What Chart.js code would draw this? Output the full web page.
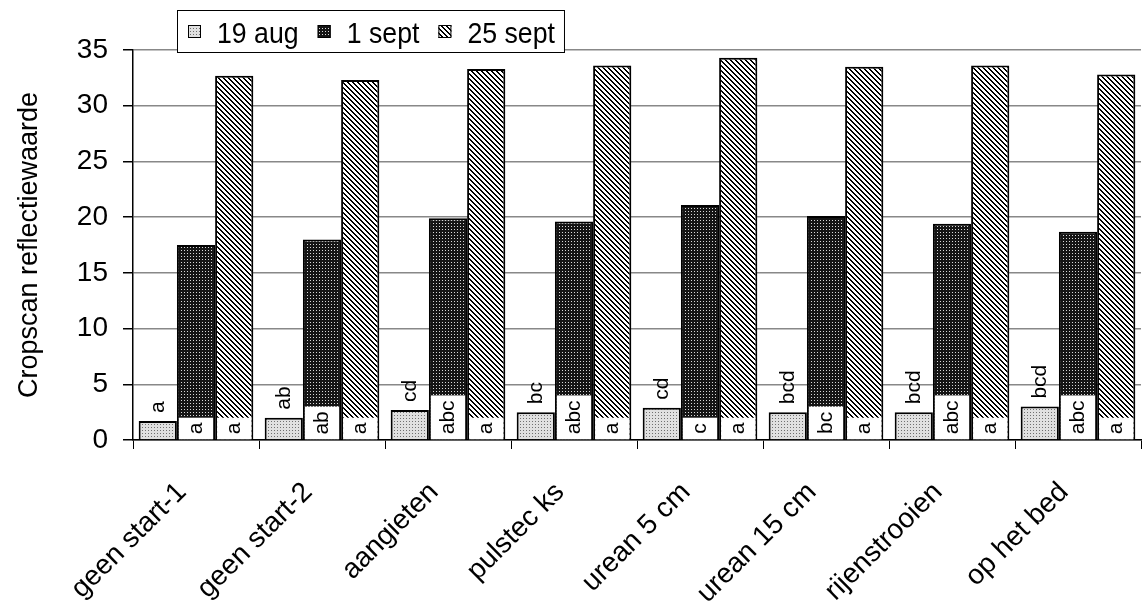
<!DOCTYPE html>
<html>
<head>
<meta charset="utf-8">
<script src="https://cdn.jsdelivr.net/npm/chart.js@4.4.1/dist/chart.umd.min.js"></script>
<style>
  html, body { margin: 0; padding: 0; background: #fff; }
  canvas { display: block; }
</style>
</head>
<body>
<canvas id="chart" width="1142" height="604"></canvas>
<script>
// Treatments on the category axis
const categories = ['geen start-1', 'geen start-2', 'aangieten', 'pulstec ks',
                    'urean 5 cm', 'urean 15 cm', 'rijenstrooien', 'op het bed'];

// Measurement dates
const seriesNames = ['19 aug', '1 sept', '25 sept'];

// Cropscan reflectance per treatment and date
const aug19  = [1.7, 2.0, 2.7, 2.5, 2.9, 2.5, 2.5, 3.0];
const sept1  = [17.5, 18.0, 19.9, 19.6, 21.1, 20.1, 19.4, 18.7];
const sept25 = [32.7, 32.3, 33.3, 33.6, 34.3, 33.5, 33.6, 32.8];

// Significance groups (same letter = no significant difference)
const letters19aug  = ['a', 'ab', 'cd', 'bc', 'cd', 'bcd', 'bcd', 'bcd'];
const letters1sept  = ['a', 'ab', 'abc', 'abc', 'c', 'bc', 'abc', 'abc'];
const letters25sept = ['a', 'a', 'a', 'a', 'a', 'a', 'a', 'a'];

// Value axis ticks
const yTicks = [0, 5, 10, 15, 20, 25, 30, 35];

const FONT = '"Liberation Sans", Arial, sans-serif';

// Small repeating fills used as bar hatching
function makePattern(size, paint) {
  const c = document.createElement('canvas');
  c.width = size; c.height = size;
  const g = c.getContext('2d');
  paint(g, size);
  return g.createPattern(c, 'repeat');
}
const lightDots = makePattern(3, (g) => {
  g.fillStyle = '#e0e0e0'; g.fillRect(0, 0, 3, 3);
  g.fillStyle = '#707070'; g.fillRect(1, 1, 1, 1);
});
const darkDots = makePattern(3, (g) => {
  g.fillStyle = '#151515'; g.fillRect(0, 0, 3, 3);
  g.fillStyle = '#d8d8d8'; g.fillRect(1, 1, 1, 1);
});
const diagonal = makePattern(5, (g, n) => {
  g.fillStyle = '#fff'; g.fillRect(0, 0, n, n);
  g.fillStyle = '#000';
  for (let y = 0; y < n; y++) {
    for (let x = 0; x < n; x++) {
      if ((((x - y) % n) + n) % n < 2) g.fillRect(x, y, 1, 1);
    }
  }
});

const letterSets = [letters19aug, letters1sept, letters25sept];

// Group letters: above the first series, in a white panel at the foot of the others
const groupLetters = {
  id: 'groupLetters',
  afterDatasetsDraw(chart) {
    const { ctx } = chart;
    const yScale = chart.scales.y;
    chart.data.datasets.forEach((ds, di) => {
      const meta = chart.getDatasetMeta(di);
      meta.data.forEach((bar, i) => {
        const { x, y, base, width } = bar.getProps(['x', 'y', 'base', 'width'], true);
        const txt = letterSets[di][i];
        ctx.save();
        ctx.font = '21px ' + FONT;
        if (di === 0) {
          ctx.fillStyle = '#000';
          ctx.translate(x, y - 8);
          ctx.rotate(-Math.PI / 2);
          ctx.textAlign = 'left';
          ctx.textBaseline = 'middle';
          ctx.fillText(txt, 0, 0);
        } else {
          const bw = ds.borderWidth;
          const panelTop = yScale.getPixelForValue(txt.length + 1);
          ctx.fillStyle = '#fff';
          ctx.fillRect(x - width / 2 + bw, panelTop, width - 2 * bw, base - panelTop);
          ctx.fillStyle = '#000';
          ctx.translate(x, (panelTop + base) / 2);
          ctx.rotate(-Math.PI / 2);
          ctx.textAlign = 'center';
          ctx.textBaseline = 'middle';
          ctx.fillText(txt, 0, 0);
        }
        ctx.restore();
      });
    });
  }
};

// Framed legend sitting across the top edge of the plot
const boxedLegend = {
  id: 'boxedLegend',
  afterDraw(chart) {
    const { ctx } = chart;
    const left = 177, top = 10, height = 43;
    const padL = 11, padR = 10, swatch = 13, swatchGap = 16, itemGap = 19;
    const squeeze = 0.89;
    ctx.save();
    ctx.font = '30px ' + FONT;
    const widths = chart.data.datasets.map(d => ctx.measureText(d.label).width * squeeze);
    let total = padL + padR;
    widths.forEach((w, i) => { total += swatch + swatchGap + w + (i ? itemGap : 0); });
    ctx.fillStyle = '#fff';
    ctx.fillRect(left, top, total, height);
    ctx.strokeStyle = '#000';
    ctx.lineWidth = 1;
    ctx.strokeRect(left + 0.5, top + 0.5, total - 1, height - 1);
    let x = left + padL;
    const mid = top + height / 2;
    chart.data.datasets.forEach((d, i) => {
      ctx.fillStyle = d.backgroundColor;
      ctx.fillRect(x, mid - swatch / 2, swatch, swatch);
      ctx.strokeStyle = '#000';
      ctx.lineWidth = 1;
      ctx.strokeRect(x + 0.5, mid - swatch / 2 + 0.5, swatch - 1, swatch - 1);
      x += swatch + swatchGap;
      ctx.save();
      ctx.translate(x, mid + 11);
      ctx.scale(squeeze, 1);
      ctx.fillStyle = '#000';
      ctx.textAlign = 'left';
      ctx.textBaseline = 'alphabetic';
      ctx.fillText(d.label, 0, 0);
      ctx.restore();
      x += widths[i] + itemGap;
    });
    ctx.restore();
  }
};

const barStyle = { borderColor: '#000', borderWidth: 2, borderSkipped: 'start' };

new Chart(document.getElementById('chart'), {
  type: 'bar',
  data: {
    labels: categories,
    datasets: [
      { label: seriesNames[0], data: aug19,  backgroundColor: lightDots, ...barStyle },
      { label: seriesNames[1], data: sept1,  backgroundColor: darkDots,  ...barStyle },
      { label: seriesNames[2], data: sept25, backgroundColor: diagonal,  ...barStyle }
    ]
  },
  options: {
    responsive: false,
    animation: false,
    devicePixelRatio: 1,
    layout: { padding: { top: 50, right: 1, left: 0, bottom: 0 } },
    datasets: { bar: { categoryPercentage: 0.91, barPercentage: 1 } },
    plugins: { legend: { display: false }, tooltip: { enabled: false } },
    scales: {
      x: {
        offset: true,
        grid: { display: true, drawOnChartArea: false, offset: true, tickLength: 9, tickColor: '#000', lineWidth: 1 },
        border: { color: '#000', width: 1.5 },
        ticks: { minRotation: 45, maxRotation: 45, autoSkip: false, color: '#000',
                 font: { family: FONT, size: 28 }, padding: 27, labelOffset: -14 },
        afterFit(s) { s.height = 164; }
      },
      y: {
        min: 0, max: 35,
        afterBuildTicks(s) { s.ticks = yTicks.map(v => ({ value: v })); },
        ticks: { color: '#000', font: { family: FONT, size: 28 }, padding: 15 },
        grid: { color: '#888', lineWidth: 1.5, tickColor: '#000', tickLength: 10 },
        border: { color: '#000', width: 1.5 },
        title: { display: true, text: 'Cropscan reflectiewaarde', color: '#000',
                 font: { family: FONT, size: 27 }, padding: { top: 13, bottom: 0 } },
        afterFit(s) { s.width = 133; }
      }
    }
  },
  plugins: [groupLetters, boxedLegend]
});
</script>
</body>
</html>
